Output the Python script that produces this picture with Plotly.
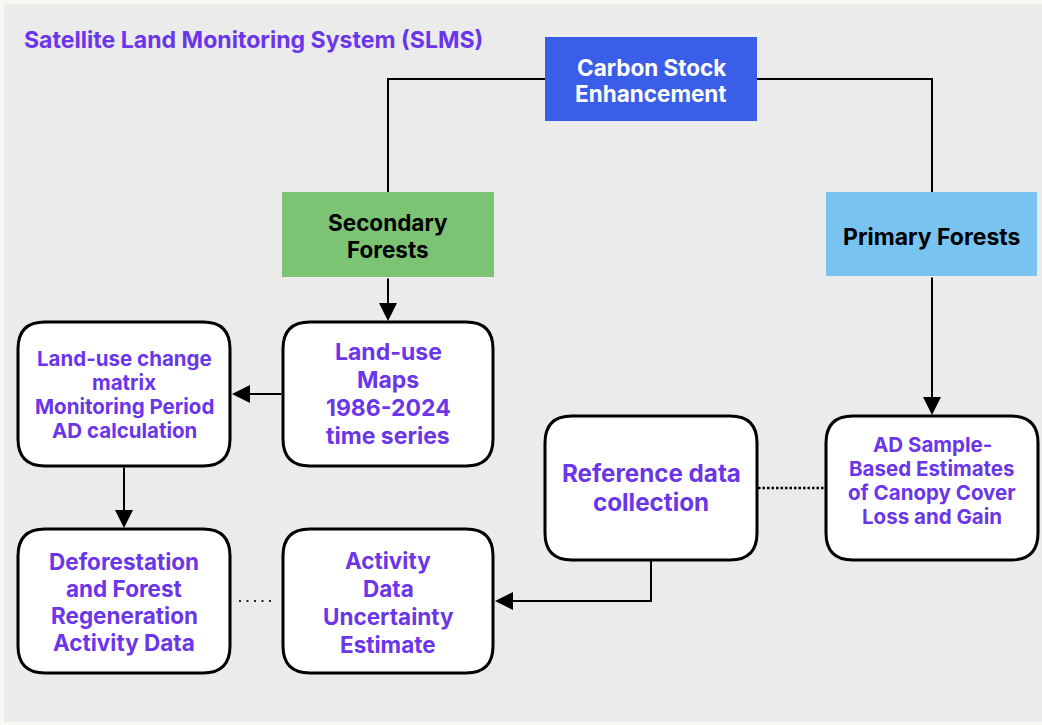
import plotly.graph_objects as go

# ---- content ----
title_text = "Satellite Land Monitoring System (SLMS)"
node_ids = ["carbon", "secondary", "primary", "lucm", "lumaps", "defor", "adunc", "refdata", "adsample"]
node_labels = [
    "Carbon Stock<br>Enhancement",
    "Secondary<br>Forests",
    "Primary Forests",
    "Land-use change<br>matrix<br>Monitoring Period<br>AD calculation",
    "Land-use<br>Maps<br>1986-2024<br>time series",
    "Deforestation<br>and Forest<br>Regeneration<br>Activity Data",
    "Activity<br>Data<br>Uncertainty<br>Estimate",
    "Reference data<br>collection",
    "AD Sample-<br>Based Estimates<br>of Canopy Cover<br>Loss and Gain",
]

# ---- layout (pixel coordinates, y downward) ----
W, H = 1042, 725
PURPLE = "#6b36ea"
boxes = {
    "carbon":    dict(x0=545, x1=757, y0=37,  y1=121, kind="rect",  fill="#3a5ee8", color="white", size=22.5, ty=80.5, ls=26.5),
    "secondary": dict(x0=282, x1=494, y0=192, y1=277, kind="rect",  fill="#7cc473", color="black", size=22.5, ty=236, ls=26.7),
    "primary":   dict(x0=826, x1=1037, y0=192, y1=276, kind="rect", fill="#78c3f0", color="black", size=23, ty=237, ls=27),
    "lucm":      dict(x0=18,  x1=230, y0=322, y1=466, kind="round", fill="white", color=PURPLE, size=20.5, ty=394, ls=24),
    "lumaps":    dict(x0=283, x1=493, y0=322, y1=466, kind="round", fill="white", color=PURPLE, size=23, ty=394, ls=28.2),
    "defor":     dict(x0=18,  x1=230, y0=529, y1=673, kind="round", fill="white", color=PURPLE, size=22.5, ty=602, ls=27),
    "adunc":     dict(x0=283, x1=493, y0=529, y1=673, kind="round", fill="white", color=PURPLE, size=22.5, ty=602, ls=28),
    "refdata":   dict(x0=545, x1=757, y0=416, y1=560, kind="round", fill="white", color=PURPLE, size=24.2, ty=488, ls=29.5),
    "adsample":  dict(x0=826, x1=1038, y0=416, y1=560, kind="round", fill="white", color=PURPLE, size=20.5, ty=480, ls=24),
}

FONT = "Inter, Roboto, Noto Sans, sans-serif"


def rounded_path(x0, y0, x1, y1, r):
    return (f"M {x0+r},{y0} L {x1-r},{y0} Q {x1},{y0} {x1},{y0+r} "
            f"L {x1},{y1-r} Q {x1},{y1} {x1-r},{y1} L {x0+r},{y1} "
            f"Q {x0},{y1} {x0},{y1-r} L {x0},{y0+r} Q {x0},{y0} {x0+r},{y0} Z")


shapes = []
annotations = []

# panel background
shapes.append(dict(type="rect", x0=4, x1=1042, y0=4, y1=722, fillcolor="#ebebeb",
                   line=dict(width=0), layer="below"))

# connector lines (no arrowheads)
LINE = dict(color="black", width=2)
shapes.append(dict(type="path", path="M 545,79 L 388,79 L 388,192", line=LINE))
shapes.append(dict(type="path", path="M 757,79 L 932,79 L 932,192", line=LINE))
shapes.append(dict(type="path", path="M 651,560 L 651,601 L 510,601", line=LINE))
# dotted lines
shapes.append(dict(type="line", x0=239, x1=276, y0=601, y1=601,
                   line=dict(color="#222", width=2, dash="2px,5.5px")))
shapes.append(dict(type="line", x0=758, x1=825, y0=488, y1=488,
                   line=dict(color="black", width=2.5, dash="2.5px,2px")))

# boxes
for nid, lab in zip(node_ids, node_labels):
    b = boxes[nid]
    if b["kind"] == "rect":
        shapes.append(dict(type="rect", x0=b["x0"], x1=b["x1"], y0=b["y0"], y1=b["y1"],
                           fillcolor=b["fill"], line=dict(width=0)))
    else:
        shapes.append(dict(type="path", path=rounded_path(b["x0"], b["y0"], b["x1"], b["y1"], 27),
                           fillcolor=b["fill"], line=dict(color="black", width=3)))
    lines = lab.split("<br>")
    n = len(lines)
    for i, t in enumerate(lines):
        y = b["ty"] + (i - (n - 1) / 2) * b["ls"]
        annotations.append(dict(x=(b["x0"] + b["x1"]) / 2, y=y, xref="x", yref="y",
                                text=f"<b>{t}</b>", showarrow=False, align="center",
                                yanchor="middle",
                                font=dict(family=FONT, size=b["size"], color=b["color"])))

# arrows
arrows = [
    ((388, 277), (388, 322)),
    ((283, 394), (231, 394)),
    ((124, 466), (124, 529)),
    ((932, 276), (932, 416)),
    ((515, 601), (494, 601)),
]
for (sx, sy), (ex, ey) in arrows:
    annotations.append(dict(x=ex, y=ey, ax=sx, ay=sy, xref="x", yref="y", axref="x", ayref="y",
                            text="", showarrow=True, arrowhead=2, arrowsize=1.8,
                            arrowwidth=2, arrowcolor="black", standoff=1))

# title
annotations.append(dict(x=22, y=40, xref="x", yref="y", xanchor="left", yanchor="middle",
                        text=f"<b>{title_text}</b>", showarrow=False,
                        font=dict(family=FONT, size=23.1, color=PURPLE)))

fig = go.Figure()
fig.update_layout(
    width=W, height=H,
    margin=dict(l=0, r=0, t=0, b=0),
    paper_bgcolor="#f8f8f3", plot_bgcolor="rgba(0,0,0,0)",
    xaxis=dict(range=[0, W], visible=False, fixedrange=True),
    yaxis=dict(range=[H, 0], visible=False, fixedrange=True),
    shapes=shapes, annotations=annotations, showlegend=False,
)
fig.write_html("out.html", config={"displayModeBar": False},
               post_script="document.body.style.margin='0';")
